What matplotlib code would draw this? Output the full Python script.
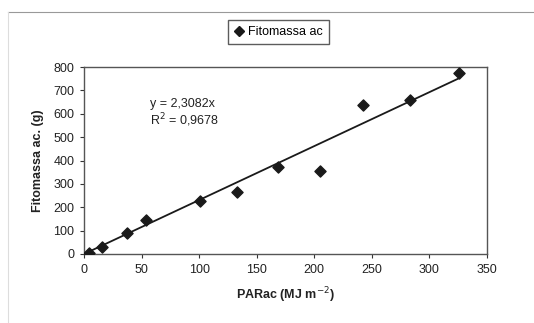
import numpy as np
import matplotlib.pyplot as plt
from matplotlib.lines import Line2D

# PARac (MJ m-2) vs accumulated phytomass (g)
par_ac = [4.6, 15.9, 37, 53.9, 101, 132.6, 168.8, 205.3, 242, 283, 325.5]
fitomassa = [5, 28, 91, 145, 225, 265, 373, 356, 637, 659, 776]
slope = 2.3082
r2_text = "0,9678"

plt.rcParams['font.family'] = ['Liberation Sans', 'DejaVu Sans']

fig = plt.figure(figsize=(5.34, 3.23), dpi=100)
ax = fig.add_axes([84/534, 69/323, 403/534, 187/323])

ax.scatter(par_ac, fitomassa, marker='D', s=32, color='#1a1a1a', zorder=3,
           label='Fitomassa ac')
xs = np.array([min(par_ac), max(par_ac)])
ax.plot(xs, slope*xs, color='#1a1a1a', lw=1.3, zorder=2)

ax.set_xlim(0, 350)
ax.set_ylim(0, 800)
ax.set_xticks(range(0, 351, 50))
ax.set_yticks(range(0, 801, 100))
ax.tick_params(direction='out', length=3, width=0.8, labelsize=9,
               colors='#333333', labelcolor='#222222', pad=4)
for s in ax.spines.values():
    s.set_linestyle((0, (1, 1)))
    s.set_color('#555555')
    s.set_linewidth(1.0)

ax.set_xlabel('PARac (MJ m$^{-2}$)', fontsize=9, fontweight='bold',
              color='#222222', labelpad=7)
ax.set_ylabel('Fitomassa ac. (g)', fontsize=9, fontweight='bold',
              color='#222222', labelpad=7)

ax.text(57, 628, 'y = 2,3082x', fontsize=9, color='#222222')
ax.text(57, 553, 'R$^2$ = ' + r2_text, fontsize=9, color='#222222')

h = Line2D([], [], marker='D', ls='none', color='#1a1a1a', markersize=5)
fig.legend([h], ['Fitomassa ac'], loc='center', bbox_to_anchor=(278/534, 1 - 32/323),
           fontsize=9, frameon=True, fancybox=False, edgecolor='#333333',
           handletextpad=0.2, borderpad=0.45, handlelength=1.0)

# chart area border (top and left only visible)
fig.add_artist(Line2D([8/534, 1], [1 - 12/323, 1 - 12/323], color='#999999', lw=0.8))
fig.add_artist(Line2D([8/534, 8/534], [0, 1 - 12/323], color='#dddddd', lw=0.8))

fig.savefig('out.png', dpi=100)
